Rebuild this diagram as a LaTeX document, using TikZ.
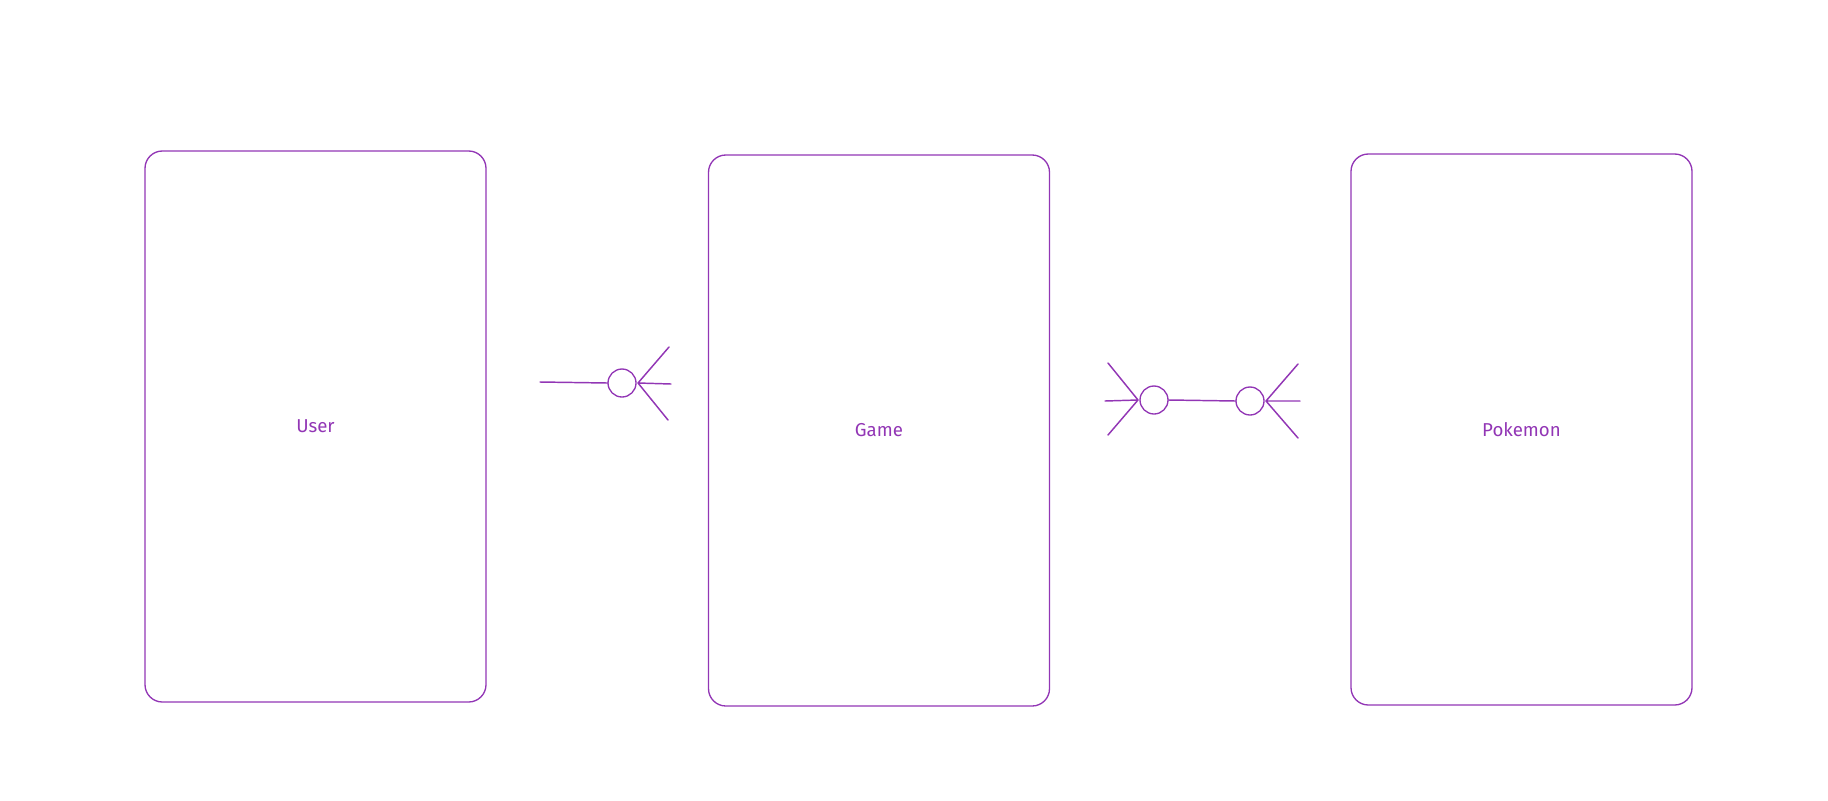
\documentclass[tikz,border=0pt]{standalone}
\usepackage{fontspec}
\setmainfont{Fira Sans}
\definecolor{violet}{HTML}{9236B5}
\begin{document}
\begin{tikzpicture}[x=0.75pt,y=-0.75pt,
  entity/.style={draw=violet,line width=1pt,rounded corners=13pt,minimum width=255.75pt,minimum height=413.25pt,inner sep=0pt,text=violet,font=\fontsize{14}{16}\selectfont},
  ring/.style={draw=violet,line width=1pt,circle,minimum size=21pt,inner sep=0pt},
  link/.style={draw=violet,line width=1.1pt,line cap=round}]
\useasboundingbox (0,0) rectangle (1828,800);
\node[entity] (user) at (315.5,426.5) {User};
\node[entity] (game) at (879,430.5) {Game};
\node[entity] (poke) at (1521.5,429.5) {Pokemon};
% left connector
\coordinate (a0) at (540,382);
\node[ring] (c1) at (622,383) {};
\coordinate (v1) at (638,383);
\coordinate (f1a) at (669,347);
\coordinate (f1b) at (671,384);
\coordinate (f1c) at (668,420);
\draw[link] (a0) -- (c1.west);
\draw[link] (v1) -- (f1a) (v1) -- (f1b) (v1) -- (f1c);
% right connector
\coordinate (v2) at (1138,400);
\coordinate (f2a) at (1108,363);
\coordinate (f2b) at (1105,401);
\coordinate (f2c) at (1108,435);
\node[ring] (c2) at (1154,400) {};
\node[ring] (c3) at (1250,401) {};
\coordinate (v3) at (1266,401);
\coordinate (f3a) at (1298,364);
\coordinate (f3b) at (1300,401);
\coordinate (f3c) at (1298,438);
\draw[link] (v2) -- (f2a) (v2) -- (f2b) (v2) -- (f2c);
\draw[link] (c2.east) -- (c3.west);
\draw[link] (v3) -- (f3a) (v3) -- (f3b) (v3) -- (f3c);
\end{tikzpicture}
\end{document}
